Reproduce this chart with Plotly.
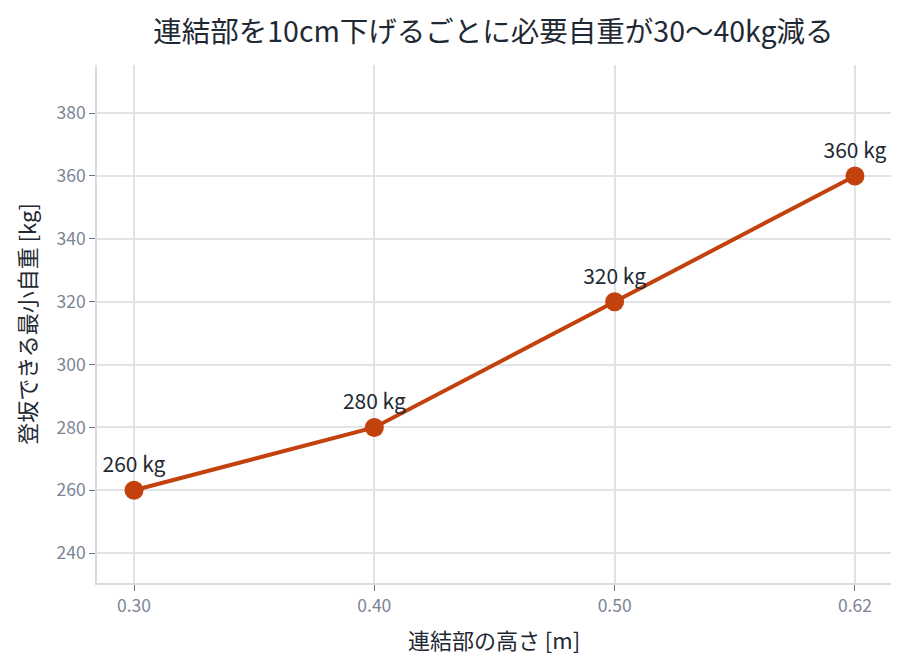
import plotly.graph_objects as go

# 連結部の高さ [m] と登坂できる最小自重 [kg]
heights = ["0.30", "0.40", "0.50", "0.62"]
min_weight = [260, 280, 320, 360]
labels = [f"{w} kg" for w in min_weight]

font_family = "Noto Sans CJK JP, Noto Sans, sans-serif"
line_color = "#C2410C"
grid_color = "#E1E3E8"

fig = go.Figure()
fig.add_trace(go.Scatter(
    x=heights, y=min_weight,
    mode="lines+markers+text",
    line=dict(color=line_color, width=4),
    marker=dict(color=line_color, size=19),
    text=labels, textposition="top center",
    textfont=dict(size=21, color="#1F2933", family=font_family),
    showlegend=False,
))

fig.update_layout(
    width=899, height=661,
    paper_bgcolor="white", plot_bgcolor="white",
    font=dict(family=font_family, color="#1F2933"),
    title=dict(text="連結部を10cm下げるごとに必要自重が30〜40kg減る",
               x=0.54, xanchor="center", y=0.963, yanchor="middle",
               font=dict(size=28.5, color="#1F2933")),
    margin=dict(l=89, r=16, t=57, b=86),
)
fig.update_xaxes(
    type="category", range=[-0.154, 3.15],
    title=dict(text="連結部の高さ [m]", font=dict(size=22), standoff=18),
    tickfont=dict(size=17.5, color="#7B8494"),
    showgrid=True, gridcolor=grid_color, gridwidth=1.5,
    showline=True, linecolor="#D8DBE0", linewidth=1.5,
    ticks="outside", ticklen=6, tickcolor="#6B7280",
)
fig.update_yaxes(
    range=[230.5, 395.3], tickvals=[240, 260, 280, 300, 320, 340, 360, 380],
    title=dict(text="登坂できる最小自重 [kg]", font=dict(size=22), standoff=14),
    tickfont=dict(size=17.5, color="#7B8494"),
    showgrid=True, gridcolor=grid_color, gridwidth=1.5,
    showline=True, linecolor="#D8DBE0", linewidth=1.5,
    ticks="outside", ticklen=6, tickcolor="#6B7280",
    zeroline=False,
)

fig.write_html("out.html")
